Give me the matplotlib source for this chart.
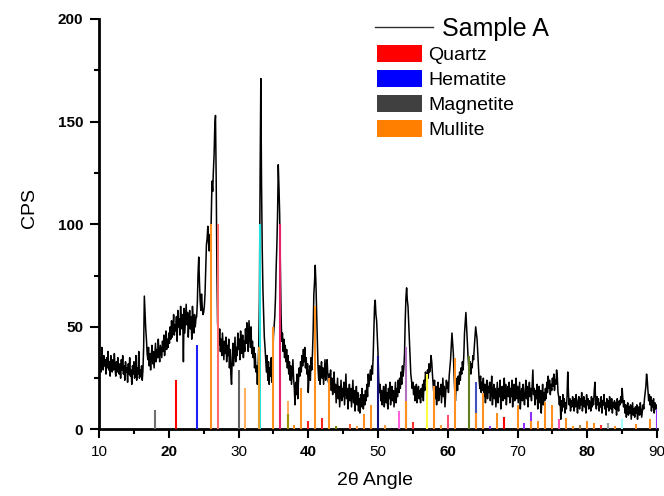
import matplotlib
matplotlib.use("Agg")
import matplotlib.pyplot as plt
from matplotlib.lines import Line2D
from matplotlib.patches import Patch
from matplotlib.ticker import MultipleLocator
import numpy as np

plt.rcParams['font.family'] = ['Liberation Sans', 'DejaVu Sans']

# measured pattern, 2theta 10..90 in 0.1 deg steps (one row per degree)
two_theta = np.round(np.arange(10.0, 90.05, 0.1), 1)
cps = [
    38, 30, 35, 28, 40, 33, 29, 36, 31, 34,   # 10
    27, 35, 30, 38, 29, 33, 26, 36, 31, 28,   # 11
    34, 29, 37, 30, 26, 33, 28, 35, 30, 27,   # 12
    32, 25, 34, 29, 36, 27, 31, 24, 33, 28,   # 13
    30, 23, 32, 27, 35, 26, 29, 22, 31, 27,   # 14
    33, 25, 28, 36, 24, 30, 27, 38, 25, 29,   # 15
    26, 31, 24, 29, 40, 65, 57, 49, 44, 37,   # 16
    34, 40, 31, 37, 29, 36, 41, 32, 38, 30,   # 17
    36, 42, 33, 39, 35, 44, 37, 33, 41, 38,   # 18
    35, 43, 38, 46, 36, 41, 48, 39, 44, 40,   # 19
    47, 42, 50, 44, 53, 45, 49, 56, 46, 51,   # 20
    48, 55, 43, 58, 50, 54, 46, 60, 52, 49,   # 21
    56, 33, 59, 47, 54, 61, 51, 57, 45, 53,   # 22
    58, 49, 55, 44, 60, 52, 47, 56, 50, 54,   # 23
    55, 62, 76, 84, 72, 63, 58, 66, 60, 56,   # 24
    57, 60, 66, 78, 90, 93, 99, 91, 87, 95,   # 25
    88, 104, 121, 116, 126, 134, 148, 153, 122, 78,   # 26
    52, 46, 41, 49, 38, 44, 36, 47, 40, 34,   # 27
    43, 37, 45, 33, 41, 36, 44, 30, 39, 27,   # 28
    22, 35, 42, 31, 38, 45, 33, 40, 36, 47,   # 29
    39, 44, 34, 48, 41, 37, 46, 35, 43, 38,   # 30
    49, 42, 52, 44, 38, 53, 46, 40, 50, 37,   # 31
    43, 35, 40, 30, 37, 28, 31, 22, 30, 40,   # 32
    64, 125, 171, 120, 88, 68, 56, 45, 40, 34,   # 33
    28, 36, 24, 33, 22, 30, 26, 35, 23, 31,   # 34
    45, 50, 55, 64, 79, 90, 105, 129, 118, 105,   # 35
    80, 56, 43, 47, 38, 44, 35, 41, 33, 39,   # 36
    30, 36, 27, 33, 24, 31, 22, 28, 34, 25,   # 37
    20, 12, 23, 17, 27, 15, 24, 30, 26, 33,   # 38
    28, 36, 31, 39, 33, 40, 30, 35, 27, 32,   # 39
    18, 26, 31, 24, 35, 29, 37, 48, 66, 72,   # 40
    80, 71, 58, 45, 30, 24, 31, 22, 28, 33,   # 41
    25, 30, 22, 28, 34, 24, 31, 34, 27, 23,   # 42
    27, 22, 29, 19, 25, 17, 23, 28, 18, 22,   # 43
    13, 19, 25, 15, 21, 11, 18, 24, 14, 20,   # 44
    16, 23, 12, 19, 27, 15, 20, 10, 17, 22,   # 45
    14, 20, 11, 18, 24, 13, 19, 9, 16, 21,   # 46
    12, 18, 9, 15, 8, 17, 11, 20, 13, 10,   # 47
    17, 12, 19, 14, 22, 16, 27, 21, 25, 29,   # 48
    24, 31, 27, 35, 48, 60, 63, 56, 53, 45,   # 49
    37, 24, 18, 22, 14, 19, 12, 17, 21, 11,   # 50
    16, 22, 13, 18, 10, 20, 15, 23, 12, 17,   # 51
    21, 14, 19, 11, 17, 23, 13, 20, 16, 24,   # 52
    18, 25, 20, 28, 22, 31, 26, 30, 37, 53,   # 53
    64, 69, 63, 60, 52, 44, 35, 27, 24, 20,   # 54
    23, 17, 21, 14, 19, 22, 13, 18, 21, 15,   # 55
    19, 13, 20, 16, 22, 14, 24, 19, 28, 26,   # 56
    23, 29, 25, 32, 28, 30, 36, 33, 27, 22,   # 57
    18, 24, 15, 21, 12, 19, 23, 14, 20, 17,   # 58
    22, 13, 19, 25, 16, 21, 11, 18, 24, 20,   # 59
    23, 18, 26, 30, 34, 41, 47, 42, 37, 27,   # 60
    19, 14, 21, 25, 19, 26, 22, 28, 24, 30,   # 61
    27, 33, 29, 36, 47, 52, 57, 50, 42, 36,   # 62
    31, 29, 33, 27, 32, 30, 36, 34, 40, 45,   # 63
    50, 47, 44, 37, 29, 24, 20, 26, 18, 23,   # 64
    19, 25, 16, 22, 13, 20, 24, 15, 21, 18,   # 65
    23, 14, 19, 26, 12, 18, 22, 15, 20, 11,   # 66
    17, 23, 13, 20, 16, 24, 10, 18, 21, 14,   # 67
    19, 25, 15, 22, 12, 18, 21, 16, 23, 13,   # 68
    20, 16, 24, 11, 19, 22, 14, 18, 25, 15,   # 69
    21, 13, 18, 23, 10, 17, 20, 14, 22, 16,   # 70
    12, 19, 24, 15, 21, 11, 18, 23, 16, 20,   # 71
    14, 22, 29, 17, 20, 12, 19, 15, 22, 10,   # 72
    17, 21, 13, 19, 8, 16, 22, 12, 18, 14,   # 73
    20, 15, 23, 18, 26, 20, 24, 17, 22, 19,   # 74
    25, 21, 27, 19, 24, 22, 29, 26, 18, 16,   # 75
    12, 16, 5, 14, 9, 17, 11, 15, 8, 13,   # 76
    10, 16, 28, 18, 12, 15, 9, 14, 11, 16,   # 77
    13, 9, 15, 11, 17, 12, 8, 14, 16, 10,   # 78
    15, 12, 18, 9, 13, 16, 11, 14, 8, 17,   # 79
    12, 15, 10, 14, 13, 9, 16, 11, 15, 12,   # 80
    19, 23, 14, 10, 16, 12, 15, 9, 13, 11,   # 81
    16, 8, 14, 12, 17, 10, 13, 7, 15, 11,   # 82
    14, 9, 16, 12, 10, 15, 8, 13, 11, 14,   # 83
    10, 13, 7, 15, 11, 9, 14, 12, 16, 13,   # 84
    20, 15, 11, 14, 8, 12, 6, 10, 13, 7,   # 85
    11, 8, 12, 5, 9, 13, 7, 10, 6, 11,   # 86
    8, 12, 5, 9, 11, 7, 13, 10, 6, 9,   # 87
    12, 10, 15, 18, 21, 27, 24, 19, 14, 17,   # 88
    12, 16, 9, 14, 11, 15, 8, 13, 10, 12,   # 89
    10,
]

# reference patterns (stick positions, relative heights, colours)
stick_pos = [18.0, 21.0, 24.0, 26.0, 27.0, 30.0, 31.0, 33.1, 33.0, 35.0,
             36.0, 37.1, 37.1, 38.0, 39.0, 40.0, 41.0, 42.0, 43.0, 44.0,
             46.0, 47.0, 48.0, 49.0, 50.0, 51.0, 53.0, 54.0, 54.0, 55.0,
             57.0, 58.0, 59.0, 60.0, 61.0, 63.0, 64.0, 64.0, 65.0, 66.0,
             67.0, 68.0, 70.0, 71.0, 72.0, 72.0, 73.0, 74.0, 75.0, 76.0,
             77.0, 78.0, 79.0, 80.0, 81.0, 82.0, 83.0, 84.0, 85.0, 87.0,
             89.0, 90.0]
stick_h = [9.5, 24, 41, 100, 100, 29, 20, 100, 40, 50,
           100, 14, 7.5, 2, 20, 4, 60, 5.5, 25, 1.5,
           2.7, 1.8, 7.5, 12, 36, 2, 9, 40, 14, 3.8,
           27, 21, 2, 7, 35, 36, 23, 8, 18, 1.5,
           8, 6, 12, 3, 8.5, 4, 4, 13.5, 12, 5,
           5.5, 1.9, 2, 4, 3.3, 2, 3.3, 1.9, 5, 2.7,
           5, 9.8]
stick_col = ['#707070', '#FF0000', '#2020FF', '#FF9020', '#FF6A6A',
             '#606060', '#FFB060', '#20E0E0', '#E0A030', '#FF9020',
             '#E8206A', '#FFB060', '#A09000', '#FF9020', '#FF9020',
             '#FF2020', '#FF9020', '#FF2020', '#FF9020', '#808000',
             '#FF6030', '#FFA040', '#FF9020', '#FF9020', '#101080',
             '#FFA040', '#FF60E0', '#B070C0', '#FF9020', '#FF3030',
             '#FFFF40', '#FF9020', '#FFA040', '#FF5070', '#FF9020',
             '#608020', '#4050C0', '#FF9020', '#FF9020', '#9030FF',
             '#FF9020', '#FF0000', '#FF9020', '#9030FF', '#9030FF',
             '#FF9020', '#FF9020', '#FF9020', '#FF9020', '#FF50B0',
             '#FF9020', '#FF9020', '#A08040', '#FF9020', '#FF9020',
             '#FF3030', '#A0A0A0', '#FF9020', '#A0FFFF', '#FF9020',
             '#FF9020', '#9030FF']

phases = ['Quartz', 'Hematite', 'Magnetite', 'Mullite']
phase_colors = ['#FF0000', '#0000FF', '#404040', '#FF8000']

fig = plt.figure(figsize=(6.64, 4.96), dpi=100)
ax = fig.add_axes([0.1491, 0.1341, 0.8404, 0.8276])

ax.plot(two_theta, cps, color='black', lw=1.1, zorder=2)
ax.vlines(stick_pos, 0, stick_h, colors=stick_col, lw=1.5, zorder=3)

ax.set_xlim(10, 90)
ax.set_ylim(0, 200)
ax.xaxis.set_major_locator(MultipleLocator(10))
ax.xaxis.set_minor_locator(MultipleLocator(5))
ax.yaxis.set_major_locator(MultipleLocator(50))
ax.yaxis.set_minor_locator(MultipleLocator(25))

for s in ['top', 'right']:
    ax.spines[s].set_visible(False)
for s in ['left', 'bottom']:
    ax.spines[s].set_linewidth(2.0)

ax.tick_params(which='major', direction='out', length=6.5, width=1.5, labelsize=11)
ax.tick_params(which='minor', direction='out', length=3.5, width=1.5)
ax.tick_params(axis='x', which='major', pad=5)
ax.tick_params(axis='y', which='major', pad=5)

for lab in ax.get_yticklabels():
    lab.set_fontweight('bold')
for lab in ax.get_xticklabels():
    if lab.get_text() in ('20', '40', '60', '80'):
        lab.set_fontweight('bold')

ax.set_xlabel('2θ Angle', fontsize=14)
ax.set_ylabel('CPS', fontsize=14)
ax.xaxis.set_label_coords(0.495, -0.103)
ax.yaxis.set_label_coords(-0.11, 0.54)

leg1 = ax.legend([Line2D([], [], color='#303030', lw=1)], ['Sample A'],
                 loc='upper left', bbox_to_anchor=(0.4946, 1.005),
                 frameon=False, fontsize=18, handlelength=2.3,
                 handletextpad=0.36, borderpad=0, borderaxespad=0)
ax.add_artist(leg1)
ax.legend([Patch(facecolor=c, edgecolor='none') for c in phase_colors], phases,
          loc='upper left', bbox_to_anchor=(0.4988, 0.936),
          frameon=False, fontsize=14, handlelength=2.32, handleheight=0.91,
          handletextpad=0.3, labelspacing=0.32, borderpad=0, borderaxespad=0)

fig.savefig('out.png', dpi=100)
